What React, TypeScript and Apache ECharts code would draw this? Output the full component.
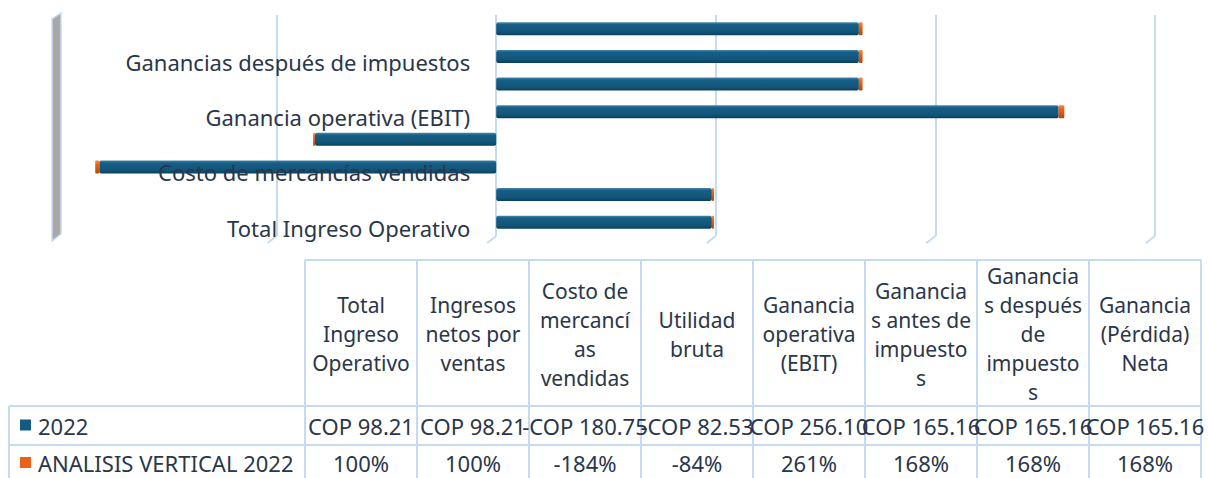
import React, { useEffect, useRef } from "react";
import * as echarts from "echarts";

const categories = [
  "Total Ingreso Operativo",
  "Ingresos netos por ventas",
  "Costo de mercancías vendidas",
  "Utilidad bruta",
  "Ganancia operativa (EBIT)",
  "Ganancias antes de impuestos",
  "Ganancias después de impuestos",
  "Ganancia (Pérdida) Neta",
];
const headerLines = [
  "Total\nIngreso\nOperativo",
  "Ingresos\nnetos por\nventas",
  "Costo de\nmercancí\nas\nvendidas",
  "Utilidad\nbruta",
  "Ganancia\noperativa\n(EBIT)",
  "Ganancia\ns antes de\nimpuesto\ns",
  "Ganancia\ns después\nde\nimpuesto\ns",
  "Ganancia\n(Pérdida)\nNeta",
];
const values2022 = [98.21, 98.21, -180.75, -82.53, 256.1, 165.16, 165.16, 165.16];
const analisisVertical = [1.0, 1.0, -1.84, -0.84, 2.61, 1.68, 1.68, 1.68];
const seriesNames = ["2022", "ANALISIS VERTICAL 2022"];
const xTicks = [-100, 0, 100, 200, 300];

const FONT = "Noto Sans";
const TXT = "#2a3649";
const LINE = "#c6dbf3";
const BLUE = "#155b81";
const ORANGE = "#e8621a";
const GRID_LEFT = 57;

export default function App() {
  const ref = useRef<HTMLDivElement>(null);
  useEffect(() => {
    const chart = echarts.init(ref.current!, null, { renderer: "svg" });
    const blueGrad = new echarts.graphic.LinearGradient(0, 0, 0, 1, [
      { offset: 0, color: "#4a88aa" },
      { offset: 0.18, color: "#175f87" },
      { offset: 0.75, color: "#125478" },
      { offset: 1, color: "#0b3f5e" },
    ]);
    const orangeGrad = new echarts.graphic.LinearGradient(0, 0, 0, 1, [
      { offset: 0, color: "#f58a45" },
      { offset: 0.3, color: "#ea6519" },
      { offset: 1, color: "#b84608" },
    ]);
    chart.setOption({
      animation: false,
      grid: {
        left: GRID_LEFT,
        right: 53,
        top: 15,
        height: 221,
        containLabel: false,
        outerBoundsMode: "none",
      },
      xAxis: {
        type: "value",
        min: -200,
        max: 300,
        interval: 100,
        axisLabel: { show: false },
        axisLine: { show: false },
        axisTick: { show: false },
        splitLine: { show: true, lineStyle: { color: LINE, width: 2 } },
      },
      yAxis: {
        type: "category",
        data: categories,
        z: 5,
        axisLine: { show: false, onZero: false },
        axisTick: { show: false },
        axisLabel: {
          interval: 1,
          margin: 26,
          fontFamily: FONT,
          fontSize: 22,
          color: TXT,
          verticalAlign: "top",
          lineHeight: 11,
        },
      },
      series: [
        {
          name: seriesNames[0],
          type: "bar",
          stack: "total",
          data: values2022,
          barWidth: 13,
          itemStyle: { color: blueGrad, borderRadius: 2 },
        },
        {
          name: seriesNames[1],
          type: "bar",
          stack: "total",
          data: analisisVertical,
          barWidth: 13,
          itemStyle: { color: orangeGrad, borderRadius: 1 },
        },
      ],
    });

    const zeroPx = chart.convertToPixel({ xAxisIndex: 0 }, 0) as number;

    const elements: any[] = [];
    xTicks.forEach((t) => {
      const x = chart.convertToPixel({ xAxisIndex: 0 }, t) as number;
      elements.push({
        type: "line",
        shape: { x1: x, y1: 236, x2: x - 9, y2: 243 },
        style: { stroke: LINE, lineWidth: 2 },
      });
    });
    const xw = chart.convertToPixel({ xAxisIndex: 0 }, -200) as number;
    elements.push({
      type: "polygon",
      shape: { points: [[xw - 5, 19], [xw + 4, 13], [xw + 4, 234], [xw - 5, 241]] },
      style: { fill: "#a8a8a8", stroke: LINE, lineWidth: 1.5 },
    });

    const colX0 = 305;
    const colW = 112;
    const headTop = 260;
    const headBot = 406;
    const row1Bot = 445;
    const bottom = 480;
    const tableRight = colX0 + colW * categories.length;
    elements.push({
      type: "line",
      shape: { x1: colX0, y1: headTop, x2: tableRight, y2: headTop },
      style: { stroke: LINE, lineWidth: 2 },
    });
    [headBot, row1Bot].forEach((y) =>
      elements.push({
        type: "line",
        shape: { x1: 9, y1: y, x2: tableRight, y2: y },
        style: { stroke: LINE, lineWidth: 2 },
      })
    );
    elements.push({
      type: "line",
      shape: { x1: 9, y1: headBot, x2: 9, y2: bottom },
      style: { stroke: LINE, lineWidth: 2 },
    });
    for (let i = 0; i <= categories.length; i++) {
      const x = colX0 + colW * i;
      elements.push({
        type: "line",
        shape: { x1: x, y1: headTop, x2: x, y2: bottom },
        style: { stroke: LINE, lineWidth: 2 },
      });
    }
    const font = `21px "${FONT}"`;
    const fontVal = `22px "${FONT}"`;
    headerLines.forEach((h, i) => {
      elements.push({
        type: "text",
        z: 10,
        style: {
          text: h,
          x: colX0 + colW * i + colW / 2,
          y: (headTop + headBot) / 2 + 1,
          align: "center",
          verticalAlign: "middle",
          font,
          lineHeight: 29,
          fill: TXT,
        },
      });
    });
    const row1Y = (headBot + row1Bot) / 2;
    const row2Y = 463;
    values2022.forEach((v, i) => {
      elements.push({
        type: "text",
        z: 10,
        style: {
          text: `${v < 0 ? "-" : ""}COP ${Math.abs(v).toFixed(2)}`,
          x: colX0 + colW * i + colW / 2,
          y: row1Y,
          align: "center",
          verticalAlign: "middle",
          font: fontVal,
          fill: TXT,
        },
      });
    });
    analisisVertical.forEach((v, i) => {
      elements.push({
        type: "text",
        z: 10,
        style: {
          text: `${Math.round(v * 100)}%`,
          x: colX0 + colW * i + colW / 2,
          y: row2Y,
          align: "center",
          verticalAlign: "middle",
          font: fontVal,
          fill: TXT,
        },
      });
    });
    [
      { name: seriesNames[0], color: BLUE, y: row1Y },
      { name: seriesNames[1], color: ORANGE, y: row2Y },
    ].forEach((k) => {
      elements.push({
        type: "rect",
        shape: { x: 20, y: k.y - 6, width: 11, height: 11 },
        style: { fill: k.color },
      });
      elements.push({
        type: "text",
        z: 10,
        style: {
          text: k.name,
          x: 38,
          y: k.y,
          align: "left",
          verticalAlign: "middle",
          font: fontVal,
          fill: TXT,
        },
      });
    });

    chart.setOption({
      yAxis: { offset: GRID_LEFT - zeroPx },
      graphic: { elements },
    });
    return () => chart.dispose();
  }, []);
  return (
    <div
      ref={ref}
      style={{ position: "fixed", left: 0, top: 0, width: 1208, height: 478, background: "#fff" }}
    />
  );
}
